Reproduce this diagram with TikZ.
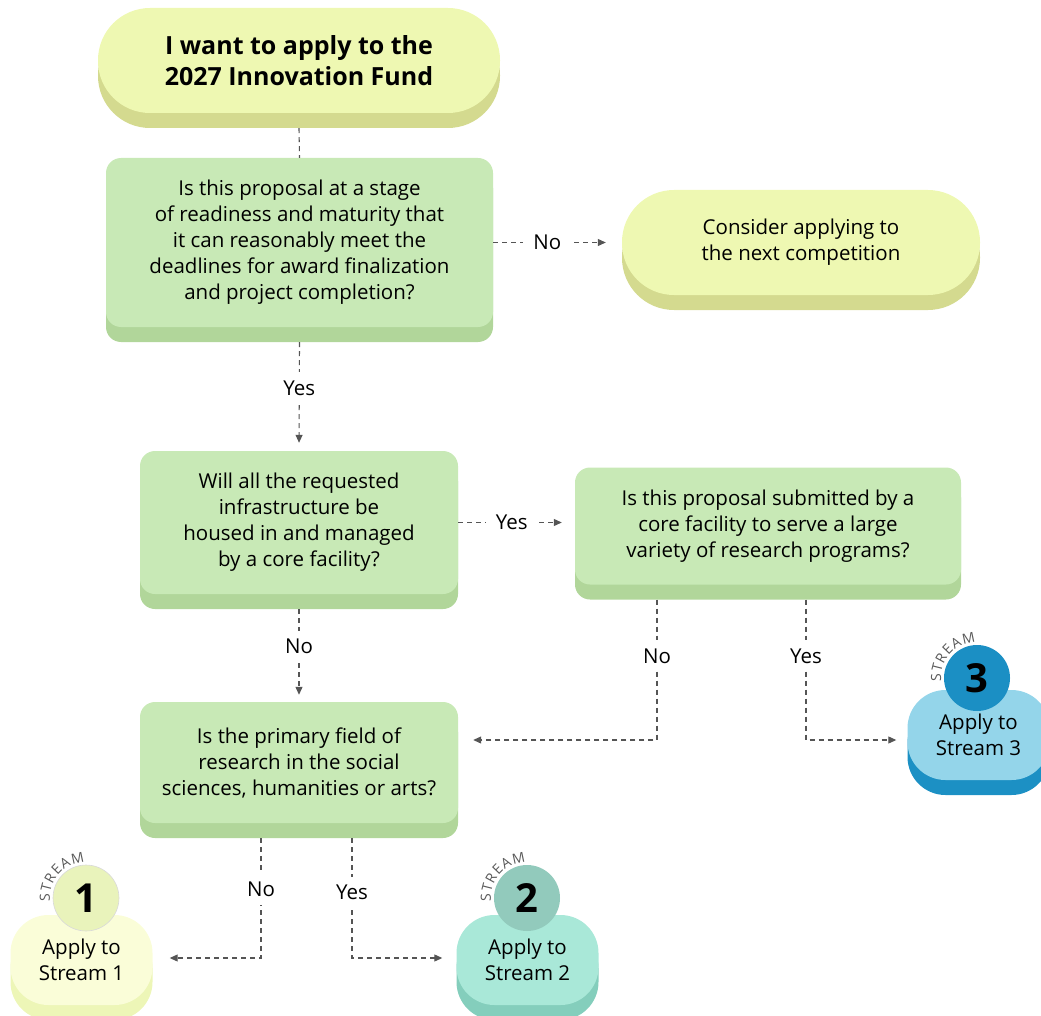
\documentclass[tikz,border=0pt]{standalone}
\usepackage{fontspec}
\setmainfont{Open Sans}
\usetikzlibrary{shadows,arrows.meta,decorations.text}
\definecolor{pillface}{RGB}{238,248,178}
\definecolor{pillshade}{RGB}{212,218,143}
\definecolor{qface}{RGB}{200,233,182}
\definecolor{qshade}{RGB}{177,214,154}
\definecolor{sOneface}{RGB}{250,253,216}
\definecolor{sOneshade}{RGB}{237,246,183}
\definecolor{sOnering}{RGB}{233,243,187}
\definecolor{sTwoface}{RGB}{169,232,216}
\definecolor{sTwoshade}{RGB}{132,206,188}
\definecolor{sTworing}{RGB}{146,202,188}
\definecolor{sThreeface}{RGB}{148,213,234}
\definecolor{sThreeshade}{RGB}{28,144,196}
\definecolor{sThreering}{RGB}{27,143,196}
\definecolor{flowgray}{RGB}{85,85,85}

\begin{document}
\begin{tikzpicture}[x=1pt, y=1pt,
	txt/.style={font=\fontsize{20.5}{26}\selectfont, align=center, inner sep=0pt},
	pill/.style={txt, fill=pillface, general shadow={shadow yshift=-15pt, fill=pillshade}},
	question/.style={txt, fill=qface, rounded corners=15pt, general shadow={shadow yshift=-15pt, fill=qshade}},
	outcome/.style={txt, minimum width=142pt, minimum height=90pt, rounded corners=38pt},
	badge/.style={circle, minimum size=66pt, inner sep=0pt, font=\fontsize{40}{40}\selectfont\bfseries},
	flow/.style={draw=flowgray, line width=1.1pt, dash pattern=on 5pt off 4pt},
	arrowflow/.style={flow, -{Triangle[length=8pt, width=7pt]}},
	answer/.style={txt, fill=white, inner xsep=10pt, inner ysep=8pt},
]
	\useasboundingbox (0,0) rectangle (1041,-1016);

	\node[pill, rounded corners=52pt, minimum width=402pt, minimum height=105pt, font=\fontsize{25}{31}\selectfont\bfseries] (start) at (299,-60.5) {I want to apply to the\\2027 Innovation Fund};
	\node[question, minimum width=387pt, minimum height=169pt] (ready) at (299.5,-242.5) {Is this proposal at a stage\\of readiness and maturity that\\it can reasonably meet the\\deadlines for award finalization\\and project completion?};
	\node[pill, rounded corners=52pt, minimum width=358pt, minimum height=105pt] (next) at (801,-242.5) {Consider applying to\\the next competition};
	\node[question, minimum width=318pt, minimum height=143pt] (core) at (299,-522.5) {Will all the requested\\infrastructure be\\housed in and managed\\by a core facility?};
	\node[question, minimum width=386pt, minimum height=117pt] (variety) at (768,-526) {Is this proposal submitted by a\\core facility to serve a large\\variety of research programs?};
	\node[question, minimum width=318pt, minimum height=121pt] (field) at (299,-762.5) {Is the primary field of\\research in the social\\sciences, humanities or arts?};

	\node[outcome, fill=sOneface, general shadow={shadow yshift=-15pt, fill=sOneshade}] (sone) at (81.5,-960) {Apply to\\Stream 1};
	\node[outcome, fill=sTwoface, general shadow={shadow yshift=-15pt, fill=sTwoshade}] (stwo) at (527.5,-960) {Apply to\\Stream 2};
	\node[outcome, fill=sThreeface, general shadow={shadow yshift=-15pt, fill=sThreeshade}] (sthree) at (978.5,-735) {Apply to\\Stream 3};
	\node[badge, fill=sOnering, draw=black!15, line width=0.6pt] (bone) at (86,-898) {1};
	\node[badge, fill=sTworing] (btwo) at (527,-898) {2};
	\node[badge, fill=sThreering] (bthree) at (977,-678) {3};
	\foreach \b in {bone,btwo,bthree}
		\path[decorate, decoration={text along path, text={|\fontsize{14}{14}\selectfont|STREAM}, text align=fit to path, text color=black!65}] ([shift={(186:36pt)}]\b.center) arc[start angle=186, end angle=92, radius=36pt];

	\coordinate (varno) at (657,-740);
	\coordinate (varyes) at (806,-740);
	\coordinate (fieldno) at (261,-958);
	\coordinate (fieldyes) at (352,-958);

	\draw[flow] ([yshift=-15pt]start.south) -- (ready.north);
	\draw[arrowflow, shorten >=16pt] (ready.east) -- node[answer, pos=0.42]{No} (next.west);
	\draw[arrowflow, shorten >=8pt] ([yshift=-15pt]ready.south) -- node[answer, pos=0.42]{Yes} (core.north);
	\draw[arrowflow, shorten >=13pt] (core.east) -- node[answer, pos=0.46]{Yes} (core.east -| variety.west);
	\draw[arrowflow, shorten >=7pt] ([yshift=-15pt]core.south) -- node[answer, pos=0.4]{No} (field.north);
	\draw[arrowflow, shorten >=15pt] ([yshift=-15pt]variety.south -| varno) -- node[answer, pos=0.4]{No} (varno) -- (varno -| field.east);
	\draw[arrowflow, shorten >=11pt] ([yshift=-15pt]variety.south -| varyes) -- node[answer, pos=0.4]{Yes} (varyes) -- (varyes -| sthree.west);
	\draw[arrowflow, shorten >=17pt] ([yshift=-15pt]field.south -| fieldno) -- node[answer, pos=0.43]{No} (fieldno) -- (fieldno -| sone.east);
	\draw[arrowflow, shorten >=14pt] ([yshift=-15pt]field.south -| fieldyes) -- node[answer, pos=0.45]{Yes} (fieldyes) -- (fieldyes -| stwo.west);
\end{tikzpicture}
\end{document}
